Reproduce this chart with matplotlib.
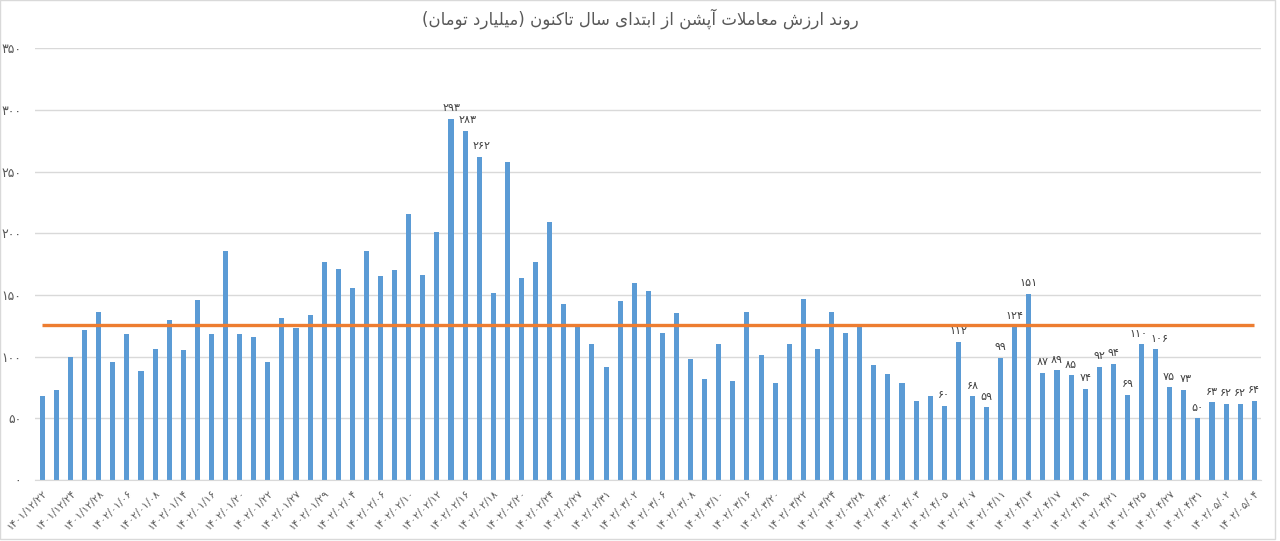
import matplotlib
matplotlib.use("Agg")
import matplotlib.pyplot as plt
from matplotlib.patches import Rectangle

plt.rcParams['font.family'] = ['DejaVu Sans']

# ---------------- data ----------------
title_text = "روند ارزش معاملات آپشن از ابتدای سال تاکنون (میلیارد تومان)"

values = [68, 73, 100, 122, 136, 96, 118, 88, 106, 130,
          105, 146, 118, 186, 118, 116, 96, 131, 123, 134,
          177, 171, 156, 186, 165, 170, 216, 166, 201, 293,
          283, 262, 152, 258, 164, 177, 209, 143, 124, 110,
          92, 145, 160, 153, 119, 135, 98, 82, 110, 80,
          136, 101, 79, 110, 147, 106, 136, 119, 125, 93,
          86, 79, 64, 68, 60, 112, 68, 59, 99, 124,
          151, 87, 89, 85, 74, 92, 94, 69, 110, 106,
          75, 73, 50, 63, 62, 62, 64]

average_value = 126

date_labels = ["۱۴۰۱/۱۲/۲۲", "۱۴۰۱/۱۲/۲۴", "۱۴۰۱/۱۲/۲۸", "۱۴۰۲/۰۱/۰۶", "۱۴۰۲/۰۱/۰۸",
               "۱۴۰۲/۰۱/۱۴", "۱۴۰۲/۰۱/۱۶", "۱۴۰۲/۰۱/۲۰", "۱۴۰۲/۰۱/۲۲", "۱۴۰۲/۰۱/۲۷",
               "۱۴۰۲/۰۱/۲۹", "۱۴۰۲/۰۲/۰۴", "۱۴۰۲/۰۲/۰۶", "۱۴۰۲/۰۲/۱۰", "۱۴۰۲/۰۲/۱۲",
               "۱۴۰۲/۰۲/۱۶", "۱۴۰۲/۰۲/۱۸", "۱۴۰۲/۰۲/۲۰", "۱۴۰۲/۰۲/۲۴", "۱۴۰۲/۰۲/۲۷",
               "۱۴۰۲/۰۲/۳۱", "۱۴۰۲/۰۳/۰۲", "۱۴۰۲/۰۳/۰۶", "۱۴۰۲/۰۳/۰۸", "۱۴۰۲/۰۳/۱۰",
               "۱۴۰۲/۰۳/۱۶", "۱۴۰۲/۰۳/۲۰", "۱۴۰۲/۰۳/۲۲", "۱۴۰۲/۰۳/۲۴", "۱۴۰۲/۰۳/۲۸",
               "۱۴۰۲/۰۳/۳۰", "۱۴۰۲/۰۴/۰۳", "۱۴۰۲/۰۴/۰۵", "۱۴۰۲/۰۴/۰۷", "۱۴۰۲/۰۴/۱۱",
               "۱۴۰۲/۰۴/۱۳", "۱۴۰۲/۰۴/۱۷", "۱۴۰۲/۰۴/۱۹", "۱۴۰۲/۰۴/۲۱", "۱۴۰۲/۰۴/۲۵",
               "۱۴۰۲/۰۴/۲۷", "۱۴۰۲/۰۴/۳۱", "۱۴۰۲/۰۵/۰۲", "۱۴۰۲/۰۵/۰۴"]

y_ticks = [0, 50, 100, 150, 200, 250, 300, 350]

labeled_bars = [29, 30, 31, 64, 65, 66, 67, 68, 69, 70, 71, 72, 73, 74, 75,
                76, 77, 78, 79, 80, 81, 82, 83, 84, 85, 86]

# ---------------- helpers ----------------
FA_DIGITS = str.maketrans("0123456789", "۰۱۲۳۴۵۶۷۸۹")


def fa(n):
    return str(n).translate(FA_DIGITS)


FORMS = {
    '\u0627': ('\uFE8D', '\uFE8E', None, None),
    '\u0622': ('\uFE81', '\uFE82', None, None),
    '\u0628': ('\uFE8F', '\uFE90', '\uFE91', '\uFE92'),
    '\u067E': ('\uFB56', '\uFB57', '\uFB58', '\uFB59'),
    '\u062A': ('\uFE95', '\uFE96', '\uFE97', '\uFE98'),
    '\u062F': ('\uFEA9', '\uFEAA', None, None),
    '\u0631': ('\uFEAD', '\uFEAE', None, None),
    '\u0632': ('\uFEAF', '\uFEB0', None, None),
    '\u0633': ('\uFEB1', '\uFEB2', '\uFEB3', '\uFEB4'),
    '\u0634': ('\uFEB5', '\uFEB6', '\uFEB7', '\uFEB8'),
    '\u0639': ('\uFEC9', '\uFECA', '\uFECB', '\uFECC'),
    '\u06A9': ('\uFB8E', '\uFB8F', '\uFB90', '\uFB91'),
    '\u0644': ('\uFEDD', '\uFEDE', '\uFEDF', '\uFEE0'),
    '\u0645': ('\uFEE1', '\uFEE2', '\uFEE3', '\uFEE4'),
    '\u0646': ('\uFEE5', '\uFEE6', '\uFEE7', '\uFEE8'),
    '\u0648': ('\uFEED', '\uFEEE', None, None),
    '\u06CC': ('\uFBFC', '\uFBFD', '\uFBFE', '\uFBFF'),
}
RIGHT_ONLY = set('\u0627\u0622\u062F\u0631\u0632\u0648')


def joins_next(c):
    return c in FORMS and c not in RIGHT_ONLY


def shape(text):
    chars = list(text)
    n = len(chars)
    out = []
    i = 0
    while i < n:
        c = chars[i]
        if c not in FORMS:
            out.append(c)
            i += 1
            continue
        prev = chars[i - 1] if i > 0 else None
        jp = prev is not None and joins_next(prev)
        nxt = chars[i + 1] if i + 1 < n else None
        if c == '\u0644' and nxt in ('\u0627', '\u0622'):
            lig = {'\u0627': ('\uFEFB', '\uFEFC'), '\u0622': ('\uFEF5', '\uFEF6')}[nxt]
            out.append(lig[1] if jp else lig[0])
            i += 2
            continue
        jn = joins_next(c) and nxt is not None and nxt in FORMS
        iso, fin, ini, med = FORMS[c]
        if jp and jn:
            g = med
        elif jp:
            g = fin
        elif jn:
            g = ini
        else:
            g = iso
        out.append(g)
        i += 1
    return ''.join(out)


def visual(text):
    s = shape(text)[::-1]
    return s.translate(str.maketrans('()', ')('))


# ---------------- plot ----------------
fig = plt.figure(figsize=(12.8, 5.41), dpi=100)
ax = fig.add_axes([0.0276, 0.1128, 0.9578, 0.7979])

x = list(range(len(values)))
ax.bar(x, values, width=0.36, color='#5B9BD5', zorder=2)
ax.plot(x, [average_value] * len(values), color='#ED7D31', lw=2.4, zorder=3,
        solid_capstyle='butt')

label_dx = {30: 2, 31: 2, 78: -2, 79: 3, 80: -1, 81: 1}
for i in labeled_bars:
    ax.annotate(fa(values[i]), (i, values[i]), xytext=(label_dx.get(i, 0), 4),
                textcoords='offset points', ha='center', va='bottom',
                fontsize=8, color='#404040', zorder=4)

ax.set_xlim(-0.5, len(values) - 0.5)
ax.set_ylim(0, 350)
ax.set_yticks(y_ticks)
ax.set_yticklabels([fa(v) for v in y_ticks], fontsize=9, color='#595959')
ax.set_xticks(x[::2])
ax.set_xticklabels(date_labels, rotation=45, ha='right', rotation_mode='anchor',
                   fontsize=7.5, color='#595959')
ax.tick_params(axis='both', length=0)
ax.tick_params(axis='y', pad=10)
ax.tick_params(axis='x', pad=6)

ax.grid(axis='y', color='#D9D9D9', lw=1, zorder=0)
for s in ['top', 'right', 'left']:
    ax.spines[s].set_visible(False)
ax.spines['bottom'].set_color('#D9D9D9')

fig.text(0.5, 0.965, visual(title_text), ha='center', va='center', fontsize=12,
         color='#595959')

fig.patches.append(Rectangle((0.0, 2 / 541), 1275 / 1280, 539 / 541,
                             transform=fig.transFigure, fill=False,
                             edgecolor='#D9D9D9', lw=1))

fig.savefig('out.png', dpi=100)
